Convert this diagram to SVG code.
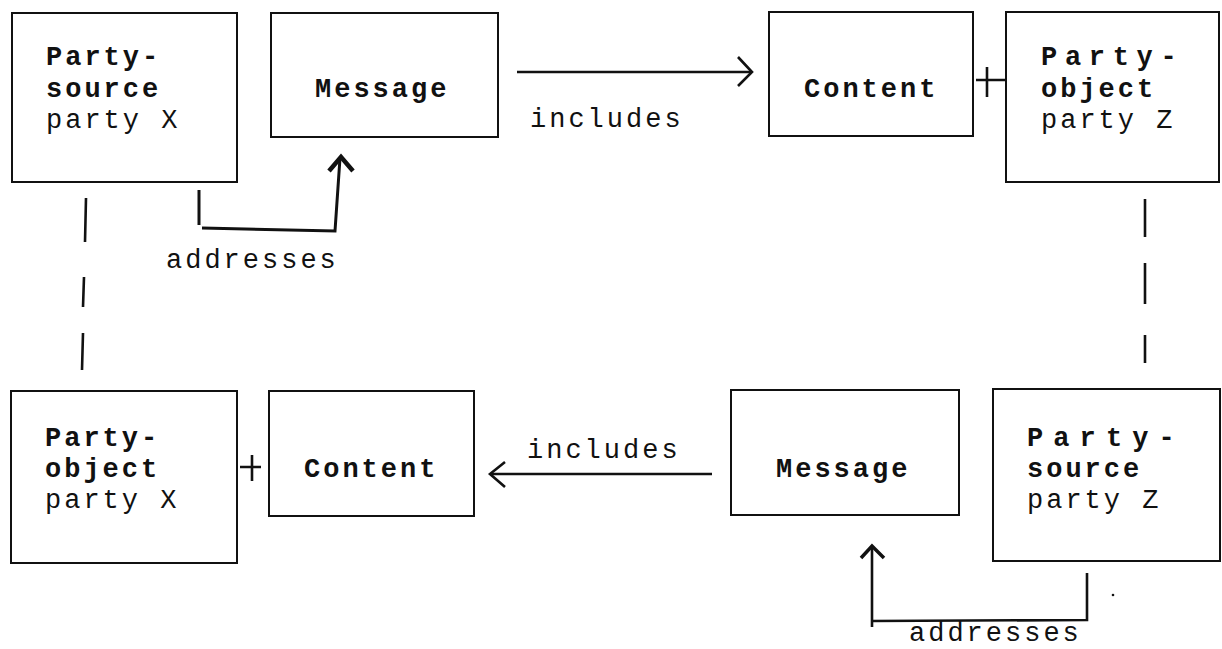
<svg xmlns="http://www.w3.org/2000/svg" width="1222" height="649" viewBox="0 0 1222 649">
<style>
.box{fill:#fff;stroke:#111;stroke-width:2}
.t{font-family:"Liberation Mono","Courier New",monospace;font-size:27px;letter-spacing:3px;fill:#111}
.b{font-weight:bold}
.w1{letter-spacing:7.7px}
.w2{letter-spacing:10.1px}
.ln{fill:none;stroke:#111;stroke-width:2.6;stroke-linecap:butt}
.ah{fill:none;stroke:#111;stroke-width:2.6;stroke-linejoin:miter}
.ahb{fill:none;stroke:#111;stroke-width:4.5;stroke-linejoin:miter}
</style>
<rect width="1222" height="649" fill="#fff"/>
<g id="connectors">
  <path class="ln" d="M517,72 L750,72"/>
  <polyline class="ah" points="738,57 752,72 738,86"/>
  <path class="ln" d="M199,190 L199,225 M202,228 L335,231 L340,158" style="stroke-width:3"/>
  <polyline class="ahb" points="329,171 341,157 353,171"/>
  <path class="ln" d="M987,67 L987,97 M976,80 L1007,80"/>
  <path class="ln" d="M86,198 L85,242 M84,277 L83,307 M83,333 L82,370"/>
  <path class="ln" d="M1145,199 L1145,237 M1145,263 L1145,304 M1145,335 L1145,363"/>
  <path class="ln" d="M252,455 L252,481 M240,467 L261,467"/>
  <path class="ln" d="M712,474 L492,474"/>
  <polyline class="ah" points="505,462 490,474 505,487"/>
  <path class="ln" d="M1087,573 L1087,620 L872,621 M872,627 L872,548"/>
  <polyline class="ahb" points="861,558 872,546 884,558" style="stroke-width:3.5"/>
  <text class="t" x="166" y="268">addresses</text>
  <text class="t" x="530" y="127">includes</text>
  <text class="t" x="527" y="458">includes</text>
  <text class="t" x="909" y="641">addresses</text>
  <circle cx="818" cy="409" r="2.5" fill="#111"/>
  <circle cx="763" cy="427" r="1" fill="#111"/>
  <circle cx="1113" cy="595" r="1.3" fill="#111"/>
</g>
<g id="party-source-x">
  <rect class="box" x="12" y="13" width="225" height="169"/>
  <text class="t b" x="46" y="65">Party-</text>
  <text class="t b" x="46" y="97">source</text>
  <text class="t" x="46" y="128">party X</text>
</g>
<g id="message-top">
  <rect class="box" x="271" y="13" width="227" height="124"/>
  <text class="t b" x="315" y="97">Message</text>
</g>
<g id="content-top">
  <rect class="box" x="769" y="12" width="204" height="124"/>
  <text class="t b" x="804" y="97">Content</text>
</g>
<g id="party-object-z">
  <rect class="box" x="1006" y="12" width="213" height="170"/>
  <text class="t b w1" x="1041" y="65">Party-</text>
  <text class="t b" x="1041" y="97">object</text>
  <text class="t" x="1041" y="128">party Z</text>
</g>
<g id="party-object-x">
  <rect class="box" x="11" y="391" width="226" height="172"/>
  <text class="t b" x="45" y="446">Party-</text>
  <text class="t b" x="45" y="477">object</text>
  <text class="t" x="45" y="508">party X</text>
</g>
<g id="content-bottom">
  <rect class="box" x="269" y="391" width="205" height="125"/>
  <text class="t b" x="304" y="477">Content</text>
</g>
<g id="message-bottom">
  <rect class="box" x="731" y="390" width="228" height="125"/>
  <text class="t b" x="776" y="477">Message</text>
</g>
<g id="party-source-z">
  <rect class="box" x="993" y="389" width="227" height="172"/>
  <text class="t b w2" x="1027" y="446">Party-</text>
  <text class="t b" x="1027" y="477">source</text>
  <text class="t" x="1027" y="508">party Z</text>
</g>
</svg>
